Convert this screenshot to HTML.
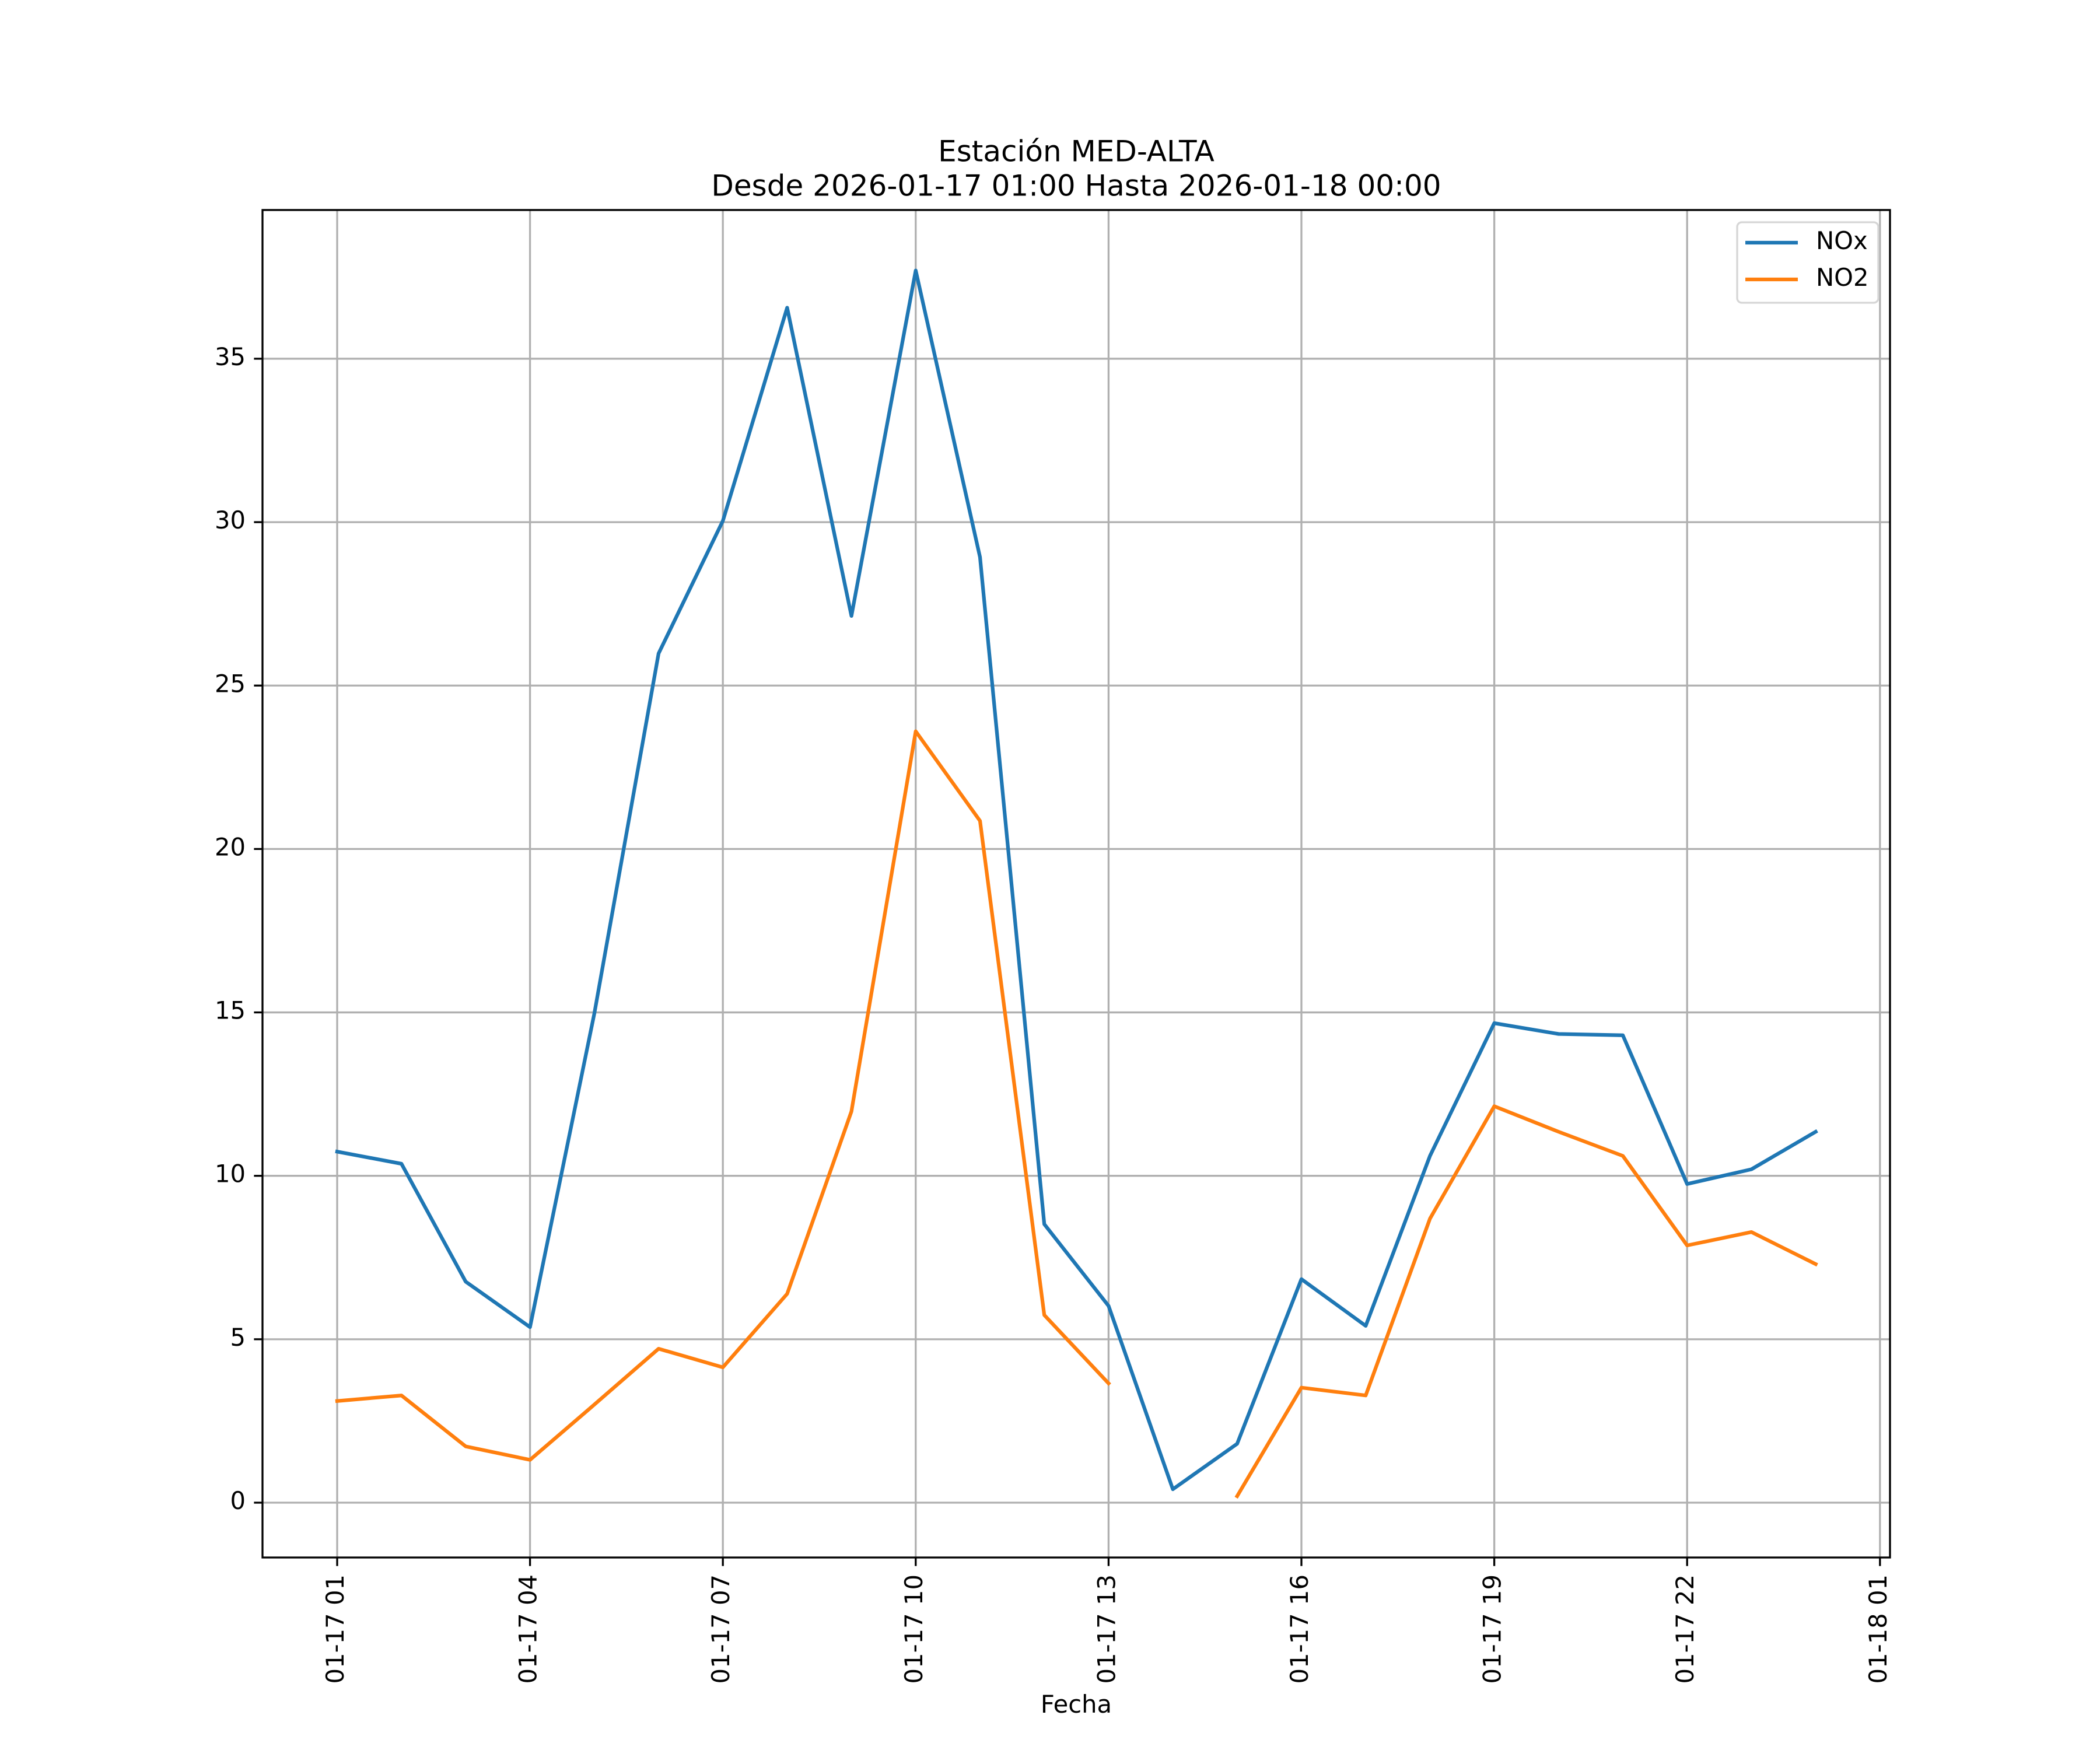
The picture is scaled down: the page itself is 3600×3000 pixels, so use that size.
<!DOCTYPE html>
<html><head><meta charset="utf-8"><style>html,body{margin:0;padding:0;background:#fff}svg{display:block}</style></head>
<body>
<svg id="chart" xmlns="http://www.w3.org/2000/svg" width="3600" height="3000" viewBox="0 0 3600 3000" font-family="DejaVu Sans, Liberation Sans, sans-serif">
<rect width="3600" height="3000" fill="#fff"/>
<g id="grid"></g>
<g id="series"></g>
<rect x="450" y="360" width="2790" height="2310" fill="none" stroke="#000" stroke-width="3.3"/>
<g id="ticks"></g>
<text x="1845" y="263" font-size="50" text-anchor="middle" dominant-baseline="middle">Estación MED-ALTA</text>
<text x="1845" y="322" font-size="50" text-anchor="middle" dominant-baseline="middle">Desde 2026-01-17 01:00 Hasta 2026-01-18 00:00</text>
<text x="1845" y="2925" font-size="41.7" text-anchor="middle" dominant-baseline="middle">Fecha</text>
<g>
<rect x="2978" y="381" width="242" height="138" rx="8" fill="#fff" fill-opacity="0.8" stroke="#d6d6d6" stroke-width="3.3"/>
<line x1="2992" y1="416" x2="3082" y2="416" stroke="#1f77b4" stroke-width="6.25"/>
<text x="3113" y="416" font-size="41.7" dominant-baseline="middle">NOx</text>
<line x1="2992" y1="479" x2="3082" y2="479" stroke="#ff7f0e" stroke-width="6.25"/>
<text x="3113" y="479" font-size="41.7" dominant-baseline="middle">NO2</text>
</g>
</svg>
<script>
const hours = [1,2,3,4,5,6,7,8,9,10,11,12,13,14,15,16,17,18,19,20,21,22,23,24];
const noxValues = [10.74,10.37,6.76,5.37,14.96,25.98,30.04,36.56,27.13,37.70,28.93,8.52,6.02,0.41,1.80,6.84,5.41,10.61,14.67,14.34,14.30,9.75,10.20,11.35];
const no2Values = [3.11,3.28,1.72,1.31,3.0,4.71,4.14,6.39,11.97,23.6,20.86,5.74,3.65,null,0.2,3.52,3.28,8.69,12.13,11.35,10.61,7.87,8.28,7.30];
const yTicks = [0,5,10,15,20,25,30,35];
const xTickHours = [1,4,7,10,13,16,19,22,25];
const xTickLabels = ["01-17 01","01-17 04","01-17 07","01-17 10","01-17 13","01-17 16","01-17 19","01-17 22","01-18 01"];

const NS = "http://www.w3.org/2000/svg";
const L=450,R=3240,T=360,B=2670;
function xs(h){return 578 + (h-1)*110.2;}
function ys(v){return 2576 - v*56.03;}
function mk(tag, attrs, parent){const e=document.createElementNS(NS,tag);for(const k in attrs)e.setAttribute(k,attrs[k]);parent.appendChild(e);return e;}
const grid=document.getElementById('grid'), ticks=document.getElementById('ticks'), series=document.getElementById('series');

yTicks.forEach(v=>{
  const y=ys(v);
  const g=mk('line',{x1:L,x2:R,y1:y,y2:y,stroke:'#b0b0b0','stroke-width':3.3},grid);
  
  
  const t=mk('line',{x1:L-14.6,x2:L,y1:y,y2:y,stroke:'#000','stroke-width':3.3},ticks);
  
  
  const lb=mk('text',{x:L-29,y:y,'font-size':41.7,'text-anchor':'end','dominant-baseline':'middle'},ticks);
  lb.textContent=String(v);
  
  
});
xTickHours.forEach((h,i)=>{
  const x=xs(h);
  const g=mk('line',{x1:x,x2:x,y1:T,y2:B,stroke:'#b0b0b0','stroke-width':3.3},grid);
  
  
  const t=mk('line',{x1:x,x2:x,y1:B,y2:B+14.6,stroke:'#000','stroke-width':3.3},ticks);
  
  
  const lb=mk('text',{x:0,y:0,'font-size':41.7,'text-anchor':'end','dominant-baseline':'middle',transform:`translate(${x},${B+29}) rotate(-90)`},ticks);
  lb.textContent=xTickLabels[i];
  
  
});
function drawSeries(vals,color,name){
  let segs=[],cur=[];
  vals.forEach((v,i)=>{ if(v===null){ if(cur.length)segs.push(cur); cur=[]; } else cur.push(xs(hours[i]).toFixed(1)+','+ys(v).toFixed(1)); });
  if(cur.length)segs.push(cur);
  segs.forEach(s=>{
    const p=mk('polyline',{points:s.join(' '),fill:'none',stroke:color,'stroke-width':6.25,'stroke-linejoin':'round','stroke-linecap':'square'},series);
    
    
  });
}
drawSeries(noxValues,'#1f77b4','nox-line');
drawSeries(no2Values,'#ff7f0e','no2-line');
</script>
</body></html>
